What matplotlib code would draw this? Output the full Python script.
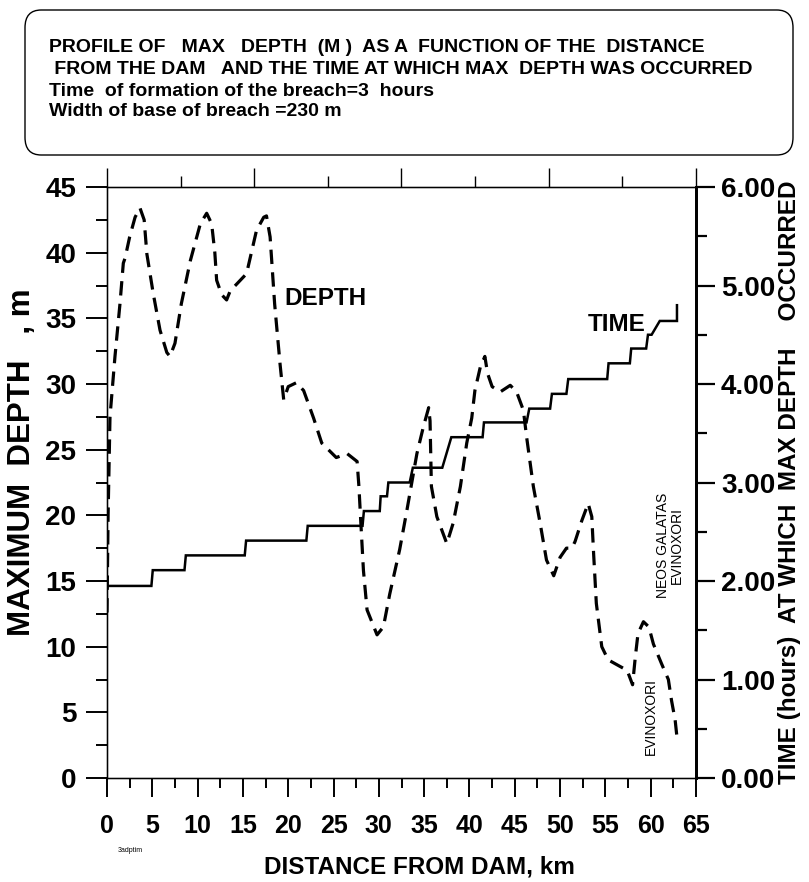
import matplotlib
matplotlib.use("Agg")
import matplotlib.pyplot as plt
from matplotlib.patches import FancyBboxPatch
import numpy as np

plt.rcParams['font.family'] = ['Liberation Sans', 'DejaVu Sans']

# ---- data ----
depth_dist = [0.0, 0.12, 0.33, 0.88, 1.43, 1.8, 2.0, 2.5, 3.1, 3.64, 4.1, 4.4, 5.1, 5.85,
              6.6, 6.95, 7.5, 8.2, 9.2, 10.3, 11.0, 11.55, 11.9, 12.1, 12.65, 13.2, 13.6,
              14.3, 15.4, 16.5, 17.3, 17.6, 18.0, 18.5, 19.1, 19.5, 20.0, 20.9, 21.7, 22.8,
              23.7, 25.3, 26.5, 27.6, 27.8, 28.0, 28.3, 28.7, 29.8, 30.5, 31.2, 32.3, 33.1,
              34.2, 34.9, 35.5, 35.65, 35.8, 36.4, 37.5, 38.2, 39.0, 39.7, 40.25, 40.6, 41.2,
              41.7, 42.0, 42.5, 43.4, 44.5, 45.2, 45.95, 46.3, 47.05, 47.8, 48.5, 49.3, 50.0,
              50.7, 51.3, 51.65, 52.4, 53.1, 53.5, 53.7, 54.0, 54.6, 55.3, 56.6, 57.4, 58.0,
              58.3, 58.6, 59.2, 59.8, 60.3, 61.2, 61.95, 62.3, 62.7, 62.9]
depth_m = [12.6, 20.0, 27.5, 32.1, 36.1, 39.2, 39.6, 41.2, 42.7, 43.4, 42.5, 39.9, 36.9, 34.1,
           32.4, 32.1, 33.1, 36.1, 39.4, 42.2, 43.0, 42.2, 40.0, 37.9, 36.8, 36.4, 37.1,
           37.6, 38.4, 41.7, 42.7, 42.8, 41.2, 36.1, 31.5, 28.8, 29.8, 30.1, 29.5, 27.4,
           25.5, 24.4, 24.7, 24.1, 22.2, 19.6, 15.8, 12.8, 10.9, 11.5, 14.0, 17.4, 20.4,
           24.7, 26.7, 28.2, 27.2, 22.2, 19.9, 17.85, 19.4, 22.2, 25.5, 27.4, 29.5, 31.3,
           32.1, 30.8, 29.8, 29.4, 29.9, 29.4, 28.0, 26.0, 22.2, 19.4, 16.6, 15.4, 16.8,
           17.5, 17.5, 18.0, 19.6, 20.9, 19.9, 17.1, 13.3, 10.0, 9.0, 8.5, 8.2, 7.1,
           9.2, 11.0, 11.9, 11.5, 10.2, 8.7, 7.5, 5.9, 4.4, 3.1]

time_dist = [0.0, 4.9, 5.05, 8.55, 8.7, 15.2, 15.35, 22.0, 22.15, 28.2, 28.35, 30.1, 30.2,
             30.9, 31.05, 33.4, 33.75, 37.0, 38.0, 41.45, 41.6, 46.3, 46.6, 48.9, 49.1, 50.7,
             50.9, 55.2, 55.35, 57.7, 57.85, 59.5, 59.7, 60.1, 61.0, 62.9, 62.9]
time_h = [1.95, 1.95, 2.11, 2.11, 2.26, 2.26, 2.41, 2.41, 2.56, 2.56, 2.71, 2.71, 2.86,
          2.86, 3.00, 3.00, 3.15, 3.15, 3.46, 3.46, 3.61, 3.61, 3.75, 3.75, 3.90, 3.90,
          4.05, 4.05, 4.21, 4.21, 4.36, 4.36, 4.50, 4.50, 4.64, 4.64, 4.80]

x_ticks = list(range(0, 70, 5))
depth_ticks = list(range(0, 50, 5))
time_ticks = [0, 1, 2, 3, 4, 5, 6]

title_lines = ["PROFILE OF   MAX   DEPTH  (M )  AS A  FUNCTION OF THE  DISTANCE",
               " FROM THE DAM   AND THE TIME AT WHICH MAX  DEPTH WAS OCCURRED",
               "Time  of formation of the breach=3  hours",
               "Width of base of breach =230 m"]

# ---- figure ----
W, H = 809, 882
fig = plt.figure(figsize=(W / 100, H / 100), dpi=100)
ax = fig.add_axes([107 / W, 1 - 778 / H, (696 - 107) / W, (778 - 187) / H])

ax.plot(depth_dist, depth_m, color='black', lw=2.3, linestyle=(0, (4.5, 2.6)),
        solid_capstyle='butt', dash_capstyle='butt')
ax.set_xlim(0, 65)
ax.set_ylim(0, 45)

ax.set_xticks(x_ticks)
ax.set_xticks(np.arange(2.5, 65, 5), minor=True)
ax.set_yticks(depth_ticks)
ax.set_yticks(np.arange(2.5, 45, 5), minor=True)
ax.tick_params(axis='x', which='major', direction='out', length=14, width=1.4,
               labelsize=18, pad=12)
ax.tick_params(axis='x', which='minor', direction='out', length=7.5, width=1.4)
ax.tick_params(axis='y', which='major', direction='out', length=15, width=1.4,
               labelsize=20, pad=7)
ax.tick_params(axis='y', which='minor', direction='out', length=8, width=1.4)
for lab in ax.get_xticklabels() + ax.get_yticklabels():
    lab.set_fontweight('bold')
for s in ['left', 'bottom', 'top']:
    ax.spines[s].set_linewidth(1.0)
ax.spines['right'].set_linewidth(2.0)

ax.set_xlabel("DISTANCE FROM DAM, km", fontsize=17.5, fontweight='bold', va='center')
ax.xaxis.set_label_coords(0.53, -0.1506)
ax.set_ylabel("MAXIMUM  DEPTH   , m", fontsize=22.5, fontweight='bold', va='center')
ax.yaxis.set_label_coords(-0.144, 0.535)

# top axis ticks
axt = ax.twiny()
axt.set_xlim(0, 65)
axt.set_xticks(np.linspace(0, 65, 5))
axt.set_xticks(np.linspace(8.125, 56.875, 4), minor=True)
axt.tick_params(axis='x', which='major', direction='out', length=14, width=1.0,
                labelbottom=False, labeltop=False)
axt.tick_params(axis='x', which='minor', direction='out', length=8, width=1.0)
axt.spines['right'].set_visible(False)

# right axis: time
axr = ax.twinx()
axr.plot(time_dist, time_h, color='black', lw=1.8, solid_joinstyle='miter')
axr.set_ylim(0, 6)
axr.set_xlim(0, 65)
axr.set_yticks(time_ticks)
axr.set_yticks(np.arange(0.5, 6, 1), minor=True)
axr.set_yticklabels([f"{t:.2f}" for t in time_ticks], fontsize=20, fontweight='bold')
axr.tick_params(axis='y', which='major', direction='out', length=14, width=1.6, pad=4)
axr.tick_params(axis='y', which='minor', direction='out', length=8, width=1.6)
axr.spines['right'].set_linewidth(2.0)
axr.set_ylabel("TIME (hours)  AT WHICH  MAX DEPTH    OCCURRED", fontsize=17.5,
               fontweight='bold', labelpad=2)

# annotations
ax.text(19.6, 36.5, "DEPTH", fontsize=17.5, fontweight='bold', va='center', ha='left')
ax.text(59.4, 34.5, "TIME", fontsize=17.5, fontweight='bold', va='center', ha='right')
ax.text(62.1, 17.7, "NEOS GALATAS\nEVINOXORI", fontsize=10, rotation=90,
        ha='center', va='center', multialignment='center', linespacing=0.95)
ax.text(60.0, 4.7, "EVINOXORI", fontsize=10, rotation=90, ha='center', va='center')
fig.text(118 / W, 1 - 850 / H, "3adptim", fontsize=5, ha='left', va='center')

# title box
box = FancyBboxPatch((25 / W, 1 - 155 / H), (793 - 25) / W, (155 - 10) / H,
                     boxstyle="round,pad=0,rounding_size=0.02",
                     transform=fig.transFigure, facecolor='white', edgecolor='black',
                     lw=1.0)
fig.patches.append(box)
ys = [48, 70, 91, 112]
for yy, line in zip(ys, title_lines):
    fig.text(49 / W, 1 - yy / H, line, fontsize=14, fontweight='bold',
             ha='left', va='center')

fig.savefig("out.png", dpi=100)
